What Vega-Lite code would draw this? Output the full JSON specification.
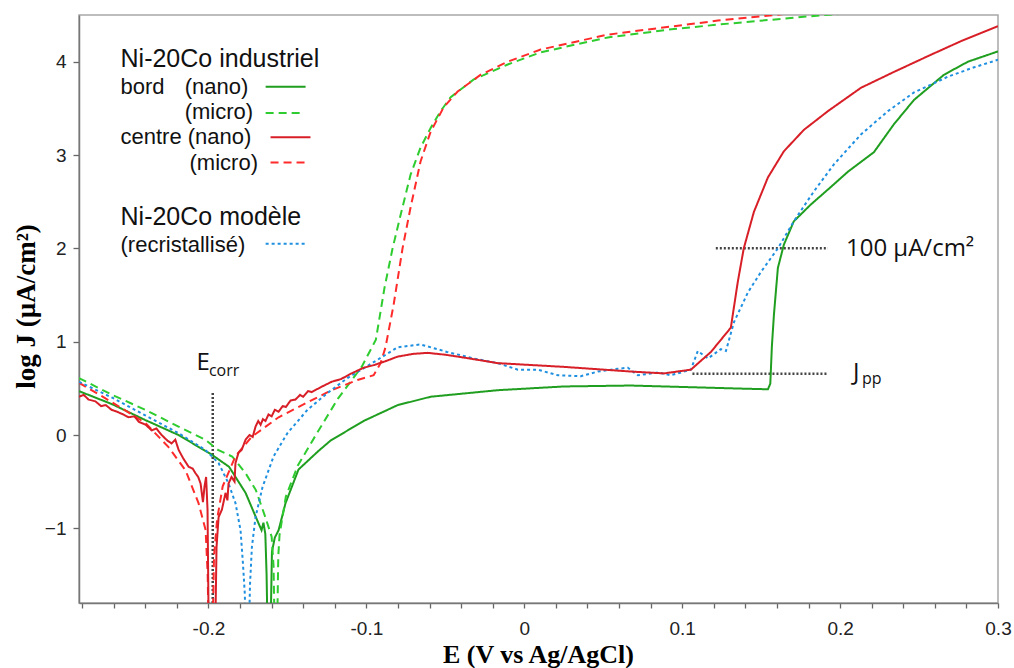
{
  "$schema": "https://vega.github.io/schema/vega-lite/v6.json",
  "width": 919,
  "height": 588,
  "autosize": "none",
  "padding": {"left": 79, "top": 15, "right": 16, "bottom": 65},
  "background": "white",
  "config": {
    "view": {"stroke": "#a8a8a8", "strokeWidth": 1.5},
    "axis": {"grid": false, "domainColor": "#777", "domainWidth": 1.5, "ticks": true, "tickColor": "#666", "tickWidth": 1.3, "labelColor": "#222", "labelFont": "Liberation Sans", "labelFontSize": 19, "titleColor": "#000", "titleFont": "Liberation Serif", "titleFontWeight": "bold"}
  },
  "datasets": {
    "curves": [
      {"s": "bord nano", "E": -0.282, "J": 0.47}, {"s": "bord nano", "E": -0.261, "J": 0.33}, {"s": "bord nano", "E": -0.24, "J": 0.16}, {"s": "bord nano", "E": -0.219, "J": 0.0}, {"s": "bord nano", "E": -0.198, "J": -0.21}, {"s": "bord nano", "E": -0.187, "J": -0.34}, {"s": "bord nano", "E": -0.1765, "J": -0.62}, {"s": "bord nano", "E": -0.17, "J": -0.88}, {"s": "bord nano", "E": -0.1664, "J": -1.02}, {"s": "bord nano", "E": -0.1652, "J": -0.94}, {"s": "bord nano", "E": -0.164, "J": -1.06}, {"s": "bord nano", "E": -0.1632, "J": -1.5}, {"s": "bord nano", "E": -0.1625, "J": -2.2}, {"s": "bord nano", "E": -0.1608, "J": -2.2}, {"s": "bord nano", "E": -0.1598, "J": -1.25}, {"s": "bord nano", "E": -0.158, "J": -1.1}, {"s": "bord nano", "E": -0.1556, "J": -1.02}, {"s": "bord nano", "E": -0.1512, "J": -0.73}, {"s": "bord nano", "E": -0.143, "J": -0.37}, {"s": "bord nano", "E": -0.1303, "J": -0.17}, {"s": "bord nano", "E": -0.1227, "J": -0.06}, {"s": "bord nano", "E": -0.1018, "J": 0.15}, {"s": "bord nano", "E": -0.0802, "J": 0.32}, {"s": "bord nano", "E": -0.0593, "J": 0.41}, {"s": "bord nano", "E": -0.0168, "J": 0.48}, {"s": "bord nano", "E": 0.025, "J": 0.52}, {"s": "bord nano", "E": 0.0675, "J": 0.53}, {"s": "bord nano", "E": 0.1099, "J": 0.51}, {"s": "bord nano", "E": 0.1308, "J": 0.5}, {"s": "bord nano", "E": 0.1543, "J": 0.49}, {"s": "bord nano", "E": 0.1558, "J": 0.55}, {"s": "bord nano", "E": 0.1568, "J": 0.95}, {"s": "bord nano", "E": 0.1581, "J": 1.29}, {"s": "bord nano", "E": 0.1606, "J": 1.79}, {"s": "bord nano", "E": 0.1644, "J": 2.04}, {"s": "bord nano", "E": 0.1707, "J": 2.29}, {"s": "bord nano", "E": 0.1815, "J": 2.47}, {"s": "bord nano", "E": 0.1923, "J": 2.63}, {"s": "bord nano", "E": 0.2049, "J": 2.82}, {"s": "bord nano", "E": 0.2214, "J": 3.03}, {"s": "bord nano", "E": 0.2341, "J": 3.33}, {"s": "bord nano", "E": 0.2468, "J": 3.59}, {"s": "bord nano", "E": 0.2658, "J": 3.86}, {"s": "bord nano", "E": 0.281, "J": 4.0}, {"s": "bord nano", "E": 0.3, "J": 4.11},

      {"s": "bord micro", "E": -0.282, "J": 0.61}, {"s": "bord micro", "E": -0.261, "J": 0.43}, {"s": "bord micro", "E": -0.24, "J": 0.27}, {"s": "bord micro", "E": -0.219, "J": 0.09}, {"s": "bord micro", "E": -0.202, "J": -0.05}, {"s": "bord micro", "E": -0.194, "J": -0.16}, {"s": "bord micro", "E": -0.185, "J": -0.23}, {"s": "bord micro", "E": -0.1765, "J": -0.41}, {"s": "bord micro", "E": -0.17, "J": -0.59}, {"s": "bord micro", "E": -0.164, "J": -0.88}, {"s": "bord micro", "E": -0.16, "J": -1.09}, {"s": "bord micro", "E": -0.1588, "J": -1.4}, {"s": "bord micro", "E": -0.158, "J": -2.2}, {"s": "bord micro", "E": -0.1566, "J": -2.2}, {"s": "bord micro", "E": -0.1558, "J": -1.3}, {"s": "bord micro", "E": -0.155, "J": -1.07}, {"s": "bord micro", "E": -0.151, "J": -0.66}, {"s": "bord micro", "E": -0.1435, "J": -0.33}, {"s": "bord micro", "E": -0.132, "J": 0.0}, {"s": "bord micro", "E": -0.118, "J": 0.39}, {"s": "bord micro", "E": -0.103, "J": 0.73}, {"s": "bord micro", "E": -0.094, "J": 1.02}, {"s": "bord micro", "E": -0.0885, "J": 1.58}, {"s": "bord micro", "E": -0.0834, "J": 2.0}, {"s": "bord micro", "E": -0.0783, "J": 2.36}, {"s": "bord micro", "E": -0.072, "J": 2.79}, {"s": "bord micro", "E": -0.0657, "J": 3.08}, {"s": "bord micro", "E": -0.0593, "J": 3.29}, {"s": "bord micro", "E": -0.053, "J": 3.47}, {"s": "bord micro", "E": -0.0466, "J": 3.62}, {"s": "bord micro", "E": -0.032, "J": 3.81}, {"s": "bord micro", "E": -0.0105, "J": 3.97}, {"s": "bord micro", "E": 0.0104, "J": 4.1}, {"s": "bord micro", "E": 0.0529, "J": 4.26}, {"s": "bord micro", "E": 0.0947, "J": 4.35}, {"s": "bord micro", "E": 0.1245, "J": 4.4}, {"s": "bord micro", "E": 0.1898, "J": 4.5}, {"s": "bord micro", "E": 0.3, "J": 4.62},

      {"s": "centre micro", "E": -0.282, "J": 0.56}, {"s": "centre micro", "E": -0.261, "J": 0.35}, {"s": "centre micro", "E": -0.24, "J": 0.13}, {"s": "centre micro", "E": -0.2253, "J": -0.13}, {"s": "centre micro", "E": -0.2145, "J": -0.38}, {"s": "centre micro", "E": -0.2063, "J": -0.73}, {"s": "centre micro", "E": -0.2018, "J": -1.02}, {"s": "centre micro", "E": -0.2005, "J": -1.5}, {"s": "centre micro", "E": -0.1998, "J": -2.2}, {"s": "centre micro", "E": -0.1975, "J": -2.2}, {"s": "centre micro", "E": -0.1965, "J": -1.3}, {"s": "centre micro", "E": -0.1945, "J": -0.9}, {"s": "centre micro", "E": -0.191, "J": -0.55}, {"s": "centre micro", "E": -0.183, "J": -0.23}, {"s": "centre micro", "E": -0.1727, "J": -0.02}, {"s": "centre micro", "E": -0.1556, "J": 0.19}, {"s": "centre micro", "E": -0.1385, "J": 0.34}, {"s": "centre micro", "E": -0.122, "J": 0.48}, {"s": "centre micro", "E": -0.1056, "J": 0.59}, {"s": "centre micro", "E": -0.0954, "J": 0.64}, {"s": "centre micro", "E": -0.091, "J": 0.77}, {"s": "centre micro", "E": -0.0879, "J": 0.94}, {"s": "centre micro", "E": -0.0828, "J": 1.39}, {"s": "centre micro", "E": -0.0771, "J": 2.0}, {"s": "centre micro", "E": -0.072, "J": 2.44}, {"s": "centre micro", "E": -0.0657, "J": 2.93}, {"s": "centre micro", "E": -0.0593, "J": 3.25}, {"s": "centre micro", "E": -0.0511, "J": 3.51}, {"s": "centre micro", "E": -0.0422, "J": 3.68}, {"s": "centre micro", "E": -0.0276, "J": 3.86}, {"s": "centre micro", "E": -0.0105, "J": 4.0}, {"s": "centre micro", "E": 0.0104, "J": 4.13}, {"s": "centre micro", "E": 0.0529, "J": 4.29}, {"s": "centre micro", "E": 0.0947, "J": 4.38}, {"s": "centre micro", "E": 0.1226, "J": 4.44}, {"s": "centre micro", "E": 0.158, "J": 4.5}, {"s": "centre micro", "E": 0.3, "J": 4.75},

      {"s": "recristallise", "E": -0.282, "J": 0.57}, {"s": "recristallise", "E": -0.261, "J": 0.4}, {"s": "recristallise", "E": -0.24, "J": 0.21}, {"s": "recristallise", "E": -0.219, "J": 0.02}, {"s": "recristallise", "E": -0.202, "J": -0.16}, {"s": "recristallise", "E": -0.1936, "J": -0.3}, {"s": "recristallise", "E": -0.1873, "J": -0.52}, {"s": "recristallise", "E": -0.1829, "J": -0.73}, {"s": "recristallise", "E": -0.1797, "J": -1.02}, {"s": "recristallise", "E": -0.1782, "J": -1.37}, {"s": "recristallise", "E": -0.177, "J": -1.7}, {"s": "recristallise", "E": -0.1762, "J": -2.2}, {"s": "recristallise", "E": -0.1745, "J": -2.2}, {"s": "recristallise", "E": -0.1737, "J": -1.6}, {"s": "recristallise", "E": -0.1725, "J": -1.2}, {"s": "recristallise", "E": -0.1702, "J": -0.88}, {"s": "recristallise", "E": -0.1658, "J": -0.56}, {"s": "recristallise", "E": -0.1588, "J": -0.23}, {"s": "recristallise", "E": -0.15, "J": 0.02}, {"s": "recristallise", "E": -0.1373, "J": 0.27}, {"s": "recristallise", "E": -0.1246, "J": 0.45}, {"s": "recristallise", "E": -0.112, "J": 0.61}, {"s": "recristallise", "E": -0.0954, "J": 0.78}, {"s": "recristallise", "E": -0.0802, "J": 0.94}, {"s": "recristallise", "E": -0.0657, "J": 0.97}, {"s": "recristallise", "E": -0.0489, "J": 0.89}, {"s": "recristallise", "E": -0.032, "J": 0.82}, {"s": "recristallise", "E": -0.0168, "J": 0.77}, {"s": "recristallise", "E": -0.0041, "J": 0.7}, {"s": "recristallise", "E": 0.0085, "J": 0.7}, {"s": "recristallise", "E": 0.0212, "J": 0.64}, {"s": "recristallise", "E": 0.0358, "J": 0.63}, {"s": "recristallise", "E": 0.0466, "J": 0.68}, {"s": "recristallise", "E": 0.0592, "J": 0.71}, {"s": "recristallise", "E": 0.0656, "J": 0.72}, {"s": "recristallise", "E": 0.0719, "J": 0.64}, {"s": "recristallise", "E": 0.0846, "J": 0.67}, {"s": "recristallise", "E": 0.0928, "J": 0.64}, {"s": "recristallise", "E": 0.1055, "J": 0.7}, {"s": "recristallise", "E": 0.1099, "J": 0.9}, {"s": "recristallise", "E": 0.1163, "J": 0.82}, {"s": "recristallise", "E": 0.1245, "J": 0.92}, {"s": "recristallise", "E": 0.1277, "J": 0.9}, {"s": "recristallise", "E": 0.1328, "J": 1.21}, {"s": "recristallise", "E": 0.1417, "J": 1.53}, {"s": "recristallise", "E": 0.15, "J": 1.75}, {"s": "recristallise", "E": 0.1606, "J": 2.0}, {"s": "recristallise", "E": 0.1707, "J": 2.29}, {"s": "recristallise", "E": 0.1834, "J": 2.61}, {"s": "recristallise", "E": 0.1961, "J": 2.9}, {"s": "recristallise", "E": 0.2132, "J": 3.22}, {"s": "recristallise", "E": 0.2303, "J": 3.47}, {"s": "recristallise", "E": 0.2468, "J": 3.67}, {"s": "recristallise", "E": 0.2684, "J": 3.84}, {"s": "recristallise", "E": 0.2849, "J": 3.94}, {"s": "recristallise", "E": 0.3, "J": 4.02},

      {"s": "centre nano", "E": -0.282, "J": 0.41}, {"s": "centre nano", "E": -0.279, "J": 0.43}, {"s": "centre nano", "E": -0.276, "J": 0.38}, {"s": "centre nano", "E": -0.2716, "J": 0.36}, {"s": "centre nano", "E": -0.268, "J": 0.31}, {"s": "centre nano", "E": -0.265, "J": 0.32}, {"s": "centre nano", "E": -0.2614, "J": 0.27}, {"s": "centre nano", "E": -0.258, "J": 0.25}, {"s": "centre nano", "E": -0.254, "J": 0.22}, {"s": "centre nano", "E": -0.2506, "J": 0.19}, {"s": "centre nano", "E": -0.247, "J": 0.2}, {"s": "centre nano", "E": -0.244, "J": 0.14}, {"s": "centre nano", "E": -0.2398, "J": 0.11}, {"s": "centre nano", "E": -0.236, "J": 0.05}, {"s": "centre nano", "E": -0.233, "J": 0.07}, {"s": "centre nano", "E": -0.2297, "J": 0.0}, {"s": "centre nano", "E": -0.226, "J": -0.06}, {"s": "centre nano", "E": -0.2234, "J": -0.09}, {"s": "centre nano", "E": -0.221, "J": -0.05}, {"s": "centre nano", "E": -0.2189, "J": -0.16}, {"s": "centre nano", "E": -0.216, "J": -0.25}, {"s": "centre nano", "E": -0.2126, "J": -0.34}, {"s": "centre nano", "E": -0.21, "J": -0.36}, {"s": "centre nano", "E": -0.2082, "J": -0.41}, {"s": "centre nano", "E": -0.2065, "J": -0.45}, {"s": "centre nano", "E": -0.205, "J": -0.52}, {"s": "centre nano", "E": -0.2035, "J": -0.72}, {"s": "centre nano", "E": -0.2025, "J": -0.55}, {"s": "centre nano", "E": -0.2015, "J": -0.45}, {"s": "centre nano", "E": -0.2006, "J": -0.8}, {"s": "centre nano", "E": -0.1998, "J": -2.2}, {"s": "centre nano", "E": -0.1958, "J": -2.2}, {"s": "centre nano", "E": -0.1949, "J": -1.2}, {"s": "centre nano", "E": -0.1936, "J": -0.88}, {"s": "centre nano", "E": -0.1915, "J": -0.8}, {"s": "centre nano", "E": -0.1892, "J": -0.62}, {"s": "centre nano", "E": -0.188, "J": -0.7}, {"s": "centre nano", "E": -0.1873, "J": -0.52}, {"s": "centre nano", "E": -0.1854, "J": -0.45}, {"s": "centre nano", "E": -0.1835, "J": -0.5}, {"s": "centre nano", "E": -0.1829, "J": -0.3}, {"s": "centre nano", "E": -0.181, "J": -0.19}, {"s": "centre nano", "E": -0.179, "J": -0.16}, {"s": "centre nano", "E": -0.1765, "J": -0.05}, {"s": "centre nano", "E": -0.174, "J": 0.0}, {"s": "centre nano", "E": -0.172, "J": -0.02}, {"s": "centre nano", "E": -0.1702, "J": 0.09}, {"s": "centre nano", "E": -0.1685, "J": 0.15}, {"s": "centre nano", "E": -0.167, "J": 0.11}, {"s": "centre nano", "E": -0.1655, "J": 0.17}, {"s": "centre nano", "E": -0.1639, "J": 0.15}, {"s": "centre nano", "E": -0.162, "J": 0.22}, {"s": "centre nano", "E": -0.16, "J": 0.2}, {"s": "centre nano", "E": -0.158, "J": 0.27}, {"s": "centre nano", "E": -0.1556, "J": 0.25}, {"s": "centre nano", "E": -0.153, "J": 0.31}, {"s": "centre nano", "E": -0.151, "J": 0.3}, {"s": "centre nano", "E": -0.148, "J": 0.37}, {"s": "centre nano", "E": -0.1449, "J": 0.38}, {"s": "centre nano", "E": -0.142, "J": 0.43}, {"s": "centre nano", "E": -0.14, "J": 0.41}, {"s": "centre nano", "E": -0.137, "J": 0.47}, {"s": "centre nano", "E": -0.1347, "J": 0.46}, {"s": "centre nano", "E": -0.128, "J": 0.52}, {"s": "centre nano", "E": -0.122, "J": 0.57}, {"s": "centre nano", "E": -0.116, "J": 0.6}, {"s": "centre nano", "E": -0.1094, "J": 0.66}, {"s": "centre nano", "E": -0.1018, "J": 0.72}, {"s": "centre nano", "E": -0.095, "J": 0.75}, {"s": "centre nano", "E": -0.088, "J": 0.79}, {"s": "centre nano", "E": -0.0802, "J": 0.84}, {"s": "centre nano", "E": -0.07, "J": 0.87}, {"s": "centre nano", "E": -0.0612, "J": 0.88}, {"s": "centre nano", "E": -0.05, "J": 0.86}, {"s": "centre nano", "E": -0.0384, "J": 0.83}, {"s": "centre nano", "E": -0.0168, "J": 0.77}, {"s": "centre nano", "E": 0.025, "J": 0.73}, {"s": "centre nano", "E": 0.0675, "J": 0.68}, {"s": "centre nano", "E": 0.0884, "J": 0.66}, {"s": "centre nano", "E": 0.1055, "J": 0.7}, {"s": "centre nano", "E": 0.1182, "J": 0.89}, {"s": "centre nano", "E": 0.1308, "J": 1.15}, {"s": "centre nano", "E": 0.1352, "J": 1.64}, {"s": "centre nano", "E": 0.139, "J": 2.0}, {"s": "centre nano", "E": 0.1454, "J": 2.39}, {"s": "centre nano", "E": 0.1543, "J": 2.76}, {"s": "centre nano", "E": 0.1644, "J": 3.04}, {"s": "centre nano", "E": 0.1771, "J": 3.27}, {"s": "centre nano", "E": 0.1923, "J": 3.47}, {"s": "centre nano", "E": 0.2132, "J": 3.72}, {"s": "centre nano", "E": 0.2341, "J": 3.89}, {"s": "centre nano", "E": 0.2557, "J": 4.06}, {"s": "centre nano", "E": 0.2766, "J": 4.22}, {"s": "centre nano", "E": 0.3, "J": 4.38}
    ],
    "legendLines": [
      {"s": "bord nano", "E": -0.1638, "E2": -0.1385, "J": 3.73},
      {"s": "bord micro", "E": -0.1638, "E2": -0.1404, "J": 3.45},
      {"s": "centre nano", "E": -0.1607, "E2": -0.1354, "J": 3.19},
      {"s": "centre micro", "E": -0.1607, "E2": -0.1373, "J": 2.92},
      {"s": "recristallise", "E": -0.1638, "E2": -0.1385, "J": 2.05}
    ],
    "hRefs": [
      {"E": 0.1213, "E2": 0.1923, "J": 2.0},
      {"E": 0.1065, "E2": 0.1923, "J": 0.655}
    ],
    "vRefs": [
      {"E": -0.1973, "J": -1.8, "J2": 0.47}
    ],
    "legendHeads": [
      {"t": "Ni-20Co industriel", "E": -0.2557, "J": 4.03},
      {"t": "Ni-20Co modèle", "E": -0.2557, "J": 2.34}
    ],
    "legendItems": [
      {"t": "bord", "E": -0.2557, "J": 3.73},
      {"t": "(nano)", "E": -0.2151, "J": 3.73},
      {"t": "(micro)", "E": -0.2151, "J": 3.46},
      {"t": "centre (nano)", "E": -0.2557, "J": 3.19},
      {"t": "(micro)", "E": -0.212, "J": 2.91},
      {"t": "(recristallisé)", "E": -0.2557, "J": 2.04}
    ],
    "annotBig": [
      {"t": "E", "E": -0.2076, "J": 0.7},
      {"t": "100 µA/cm²", "E": 0.2037, "J": 1.92},
      {"t": "J", "E": 0.2081, "J": 0.59}
    ],
    "annotSub": [
      {"t": "corr", "E": -0.1997, "J": 0.633},
      {"t": "pp", "E": 0.2138, "J": 0.545}
    ]
  },
  "encoding": {
    "x": {
      "field": "E", "type": "quantitative",
      "scale": {"domain": [-0.282, 0.3], "nice": false, "zero": false},
      "axis": {
        "title": "E (V vs Ag/AgCl)",
        "titleFontSize": 26,
        "values": [-0.28, -0.26, -0.24, -0.22, -0.2, -0.18, -0.16, -0.14, -0.12, -0.1, -0.08, -0.06, -0.04, -0.02, 0, 0.02, 0.04, 0.06, 0.08, 0.1, 0.12, 0.14, 0.16, 0.18, 0.2, 0.22, 0.24, 0.26, 0.28, 0.3],
        "labelExpr": "abs(datum.value*10 - round(datum.value*10)) < 0.001 ? toString(round(datum.value*10)/10) : ''",
        "tickSize": 5,
        "labelPadding": 11,
        "labelFlush": false,
        "labelOverlap": false,
        "titleBaseline": "alphabetic",
        "titleX": 459,
        "titleY": 59,
        "titleAlign": "center"
      }
    },
    "y": {
      "field": "J", "type": "quantitative",
      "scale": {"domain": [-1.8, 4.5], "nice": false, "zero": false},
      "axis": {
        "title": "log J (µA/cm²)",
        "titleFontSize": 27,
        "values": [-1, 0, 1, 2, 3, 4],
        "tickSize": 6,
        "labelPadding": 7,
        "titleX": -53,
        "titleY": 291,
        "titleAlign": "center",
        "titleBaseline": "middle",
        "titleAngle": -90
      }
    }
  },
  "layer": [
    {
      "data": {"name": "vRefs"},
      "mark": {"type": "rule", "color": "#444", "strokeWidth": 2.5, "strokeDash": [2, 2]},
      "encoding": {"y2": {"field": "J2"}}
    },
    {
      "data": {"name": "hRefs"},
      "mark": {"type": "rule", "color": "#444", "strokeWidth": 2.5, "strokeDash": [2, 2]},
      "encoding": {"x2": {"field": "E2"}}
    },
    {
      "data": {"name": "curves"},
      "mark": {"type": "line", "strokeWidth": 2, "clip": true},
      "encoding": {
        "color": {"field": "s", "type": "nominal", "legend": null,
          "scale": {"domain": ["bord nano", "bord micro", "centre nano", "centre micro", "recristallise"], "range": ["#1f9e1f", "#2ecc2e", "#d81e26", "#ff2a2a", "#1f90e0"]}},
        "strokeDash": {"field": "s", "type": "nominal", "legend": null,
          "scale": {"domain": ["bord nano", "bord micro", "centre nano", "centre micro", "recristallise"], "range": [[1, 0], [8, 5], [1, 0], [8, 5], [3, 3]]}}
      }
    },
    {
      "data": {"name": "legendLines"},
      "mark": {"type": "rule", "strokeWidth": 2},
      "encoding": {
        "x2": {"field": "E2"},
        "color": {"field": "s", "type": "nominal", "legend": null},
        "strokeDash": {"field": "s", "type": "nominal", "legend": null}
      }
    },
    {
      "data": {"name": "legendHeads"},
      "mark": {"type": "text", "align": "left", "baseline": "middle", "font": "Liberation Sans", "fontSize": 25, "color": "#111"},
      "encoding": {"text": {"field": "t"}}
    },
    {
      "data": {"name": "legendItems"},
      "mark": {"type": "text", "align": "left", "baseline": "middle", "font": "Liberation Sans", "fontSize": 22, "color": "#111"},
      "encoding": {"text": {"field": "t"}}
    },
    {
      "data": {"name": "annotBig"},
      "mark": {"type": "text", "align": "left", "baseline": "alphabetic", "font": "Open Sans", "fontSize": 24, "color": "#111"},
      "encoding": {"text": {"field": "t"}}
    },
    {
      "data": {"name": "annotSub"},
      "mark": {"type": "text", "align": "left", "baseline": "alphabetic", "font": "Open Sans", "fontSize": 16, "color": "#111"},
      "encoding": {"text": {"field": "t"}}
    }
  ]
}
